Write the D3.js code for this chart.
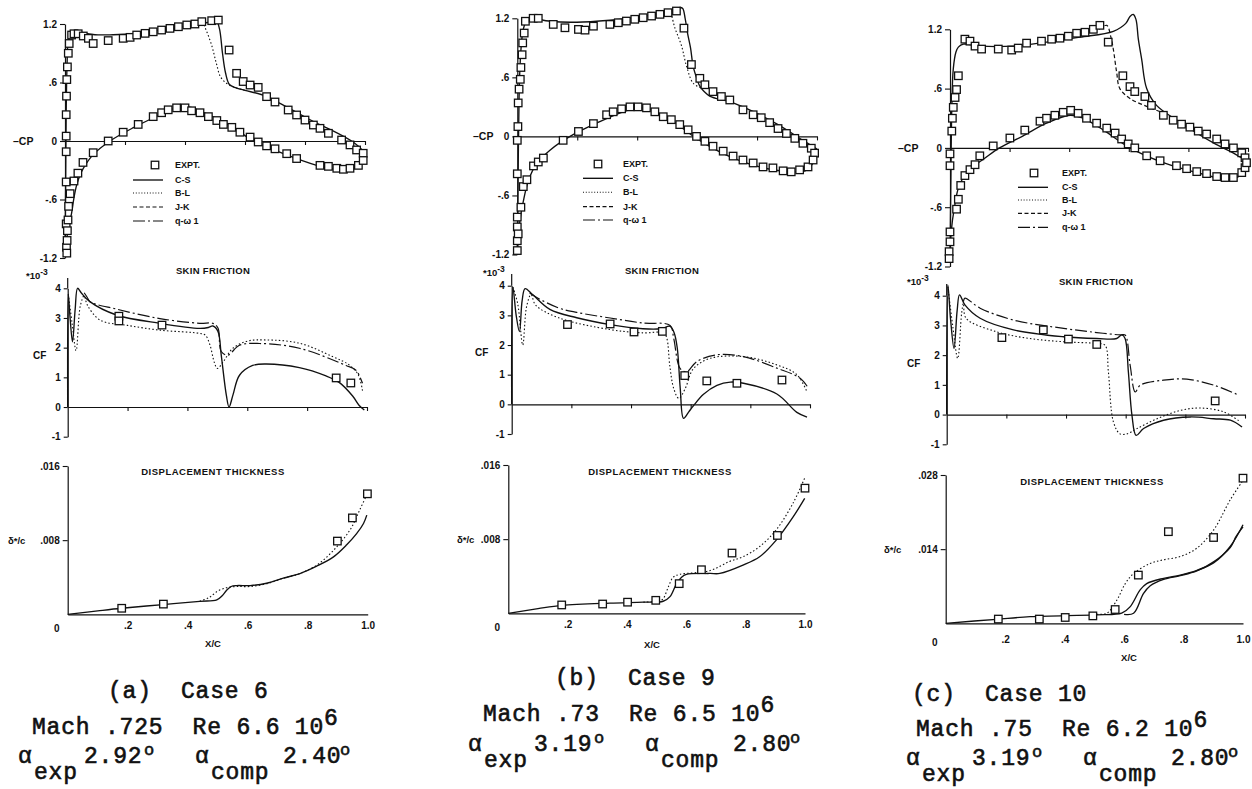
<!DOCTYPE html>
<html>
<head>
<meta charset="utf-8">
<script src="https://cdn.jsdelivr.net/npm/d3@7"></script>
<style>
  body { margin: 0; background: #fff; }
  svg { display: block; }
  .lbl { font-family: "Liberation Sans", Arial, sans-serif; font-weight: bold; fill: #111; }
  .cap { font-family: "Liberation Mono", monospace; font-weight: normal; fill: #111; stroke: #111; stroke-width: 0.6; white-space: pre; }
</style>
</head>
<body>
<svg id="chart" width="1252" height="789"></svg>
<script>
// ---------- shared tick values and labels ----------
const xTickVals = [0.2, 0.4, 0.6, 0.8, 1.0];
const xTickLabels = [".2", ".4", ".6", ".8", "1.0"];
const cpTickVals = [1.2, 0.6, 0, -0.6, -1.2];
const cpTickLabels = ["1.2", ".6", "0", "-.6", "-1.2"];
const cfTickVals = [4, 3, 2, 1, 0, -1];
const cfTickLabels = ["4", "3", "2", "1", "0", "-1"];
const dpTickValsAB = [0.016, 0.008];
const dpTickLabelsAB = [".016", ".008"];
const dpTickValsC = [0.028, 0.014];
const dpTickLabelsC = [".028", ".014"];
const legendLabels = ["EXPT.", "C-S", "B-L", "J-K", "q-\u03c9 1"];

// ---------- captions ----------
const caseTitles = ["(a)  Case 6", "(b)  Case 9", "(c)  Case 10"];
const flowLines = ["Mach .725  Re 6.6 10", "Mach .73  Re 6.5 10", "Mach .75  Re 6.2 10"];
const alphaExp = ["2.92", "3.19", "3.19"];
const alphaComp = ["2.40", "2.80", "2.80"];

// ---------- Case 6: pressure coefficient (-Cp vs x/c) ----------
const cpA_CS_upper = [[0,-1.15],[0.002,-0.5],[0.004,0.3],[0.007,0.8],[0.011,1.03],[0.02,1.1],[0.035,1.135],[0.06,1.11],[0.1,1.09],[0.16,1.09],[0.23,1.1],[0.3,1.13],[0.34,1.145],[0.4,1.175],[0.45,1.2],[0.49,1.225],[0.505,1.23],[0.515,1.15],[0.525,0.9],[0.535,0.7],[0.548,0.58],[0.57,0.545],[0.6,0.52],[0.67,0.46],[0.72,0.38],[0.78,0.28],[0.84,0.18],[0.89,0.11],[0.95,0.01],[0.98,-0.06],[1.0,-0.13]];
const cpA_BL_upper = [[0.44,1.195],[0.46,1.2],[0.47,1.14],[0.49,0.97],[0.505,0.79],[0.52,0.65],[0.55,0.57],[0.6,0.52]];
const cpA_CS_lower = [[0,-1.15],[0.006,-1.0],[0.012,-0.88],[0.022,-0.74],[0.03,-0.58],[0.039,-0.45],[0.05,-0.35],[0.061,-0.28],[0.094,-0.14],[0.15,0.0],[0.228,0.137],[0.317,0.27],[0.36,0.33],[0.39,0.35],[0.42,0.345],[0.45,0.31],[0.5,0.24],[0.56,0.14],[0.628,0.0],[0.728,-0.13],[0.839,-0.25],[0.9,-0.29],[0.93,-0.3],[0.955,-0.3],[0.975,-0.25],[0.99,-0.19],[1.0,-0.13]];
const cpA_exp = [[0.004,0.05],[0.004,0.27],[0.005,0.46],[0.006,0.63],[0.008,0.76],[0.011,0.9],[0.014,1.0],[0.022,1.087],[0.03,1.1],[0.044,1.1],[0.061,1.077],[0.078,1.053],[0.094,1.0],[0.144,1.03],[0.194,1.053],[0.217,1.063],[0.239,1.087],[0.267,1.104],[0.294,1.12],[0.322,1.138],[0.35,1.155],[0.378,1.172],[0.406,1.19],[0.433,1.2],[0.456,1.224],[0.489,1.234],[0.511,1.24],[0.547,0.933],[0.572,0.694],[0.594,0.61],[0.617,0.574],[0.644,0.55],[0.672,0.455],[0.7,0.4],[0.744,0.318],[0.772,0.267],[0.8,0.215],[0.828,0.164],[0.85,0.13],[0.878,0.079],[0.922,0.01],[0.95,-0.04],[0.972,-0.092],[0.994,-0.126],
  [0.004,-0.11],[0.004,-0.42],[0.004,-0.85],[0.005,-1.09],[0.006,-1.15],[0.007,-1.02],[0.008,-0.92],[0.01,-0.81],[0.012,-0.67],[0.017,-0.54],[0.03,-0.41],[0.043,-0.33],[0.06,-0.22],[0.094,-0.12],[0.144,0.0],[0.194,0.09],[0.244,0.17],[0.294,0.25],[0.322,0.29],[0.344,0.32],[0.372,0.34],[0.4,0.34],[0.422,0.31],[0.45,0.29],[0.478,0.25],[0.506,0.21],[0.528,0.17],[0.556,0.14],[0.583,0.09],[0.617,0.04],[0.644,-0.01],[0.672,-0.05],[0.7,-0.08],[0.739,-0.13],[0.772,-0.18],[0.85,-0.25],[0.878,-0.26],[0.906,-0.28],[0.928,-0.29],[0.95,-0.28],[0.978,-0.25],[0.994,-0.2]];

// ---------- Case 9: pressure coefficient ----------
const cpB_CS_upper = [[0,-1.15],[0.003,-0.3],[0.006,0.4],[0.009,0.71],[0.014,0.95],[0.02,1.09],[0.035,1.2],[0.053,1.22],[0.087,1.18],[0.198,1.16],[0.309,1.18],[0.42,1.22],[0.509,1.27],[0.543,1.31],[0.552,1.3],[0.56,1.2],[0.568,1.05],[0.578,0.9],[0.587,0.71],[0.6,0.58],[0.609,0.51],[0.642,0.41],[0.7,0.36],[0.753,0.3],[0.864,0.13],[0.953,-0.04],[1.0,-0.13]];
const cpB_BL_upper = [[0.49,1.255],[0.507,1.27],[0.526,1.1],[0.548,0.92],[0.565,0.71],[0.587,0.54],[0.615,0.49]];
const cpB_CS_lower = [[0,-1.15],[0.004,-1.0],[0.009,-0.85],[0.02,-0.66],[0.037,-0.45],[0.064,-0.28],[0.109,-0.14],[0.176,0.0],[0.265,0.135],[0.353,0.25],[0.409,0.29],[0.44,0.28],[0.476,0.23],[0.531,0.13],[0.598,-0.02],[0.698,-0.19],[0.809,-0.31],[0.92,-0.36],[0.96,-0.35],[0.985,-0.28],[1.0,-0.15]];
const cpB_exp = [[0.0,-0.04],[0.002,0.1],[0.003,0.34],[0.006,0.48],[0.01,0.58],[0.012,0.7],[0.016,0.83],[0.018,0.95],[0.023,1.05],[0.027,1.17],[0.053,1.2],[0.07,1.2],[0.12,1.138],[0.159,1.104],[0.204,1.087],[0.226,1.08],[0.254,1.12],[0.309,1.138],[0.337,1.155],[0.364,1.172],[0.392,1.19],[0.42,1.206],[0.448,1.223],[0.476,1.24],[0.503,1.257],[0.531,1.274],[0.556,1.1],[0.581,0.73],[0.609,0.59],[0.626,0.525],[0.653,0.455],[0.681,0.405],[0.709,0.37],[0.753,0.27],[0.787,0.22],[0.814,0.19],[0.842,0.14],[0.87,0.08],[0.898,0.03],[0.926,-0.02],[0.953,-0.07],[0.981,-0.12],[0.992,-0.17],
  [0.0,-0.38],[0.0,-0.82],[0.0,-0.92],[0.0,-1.06],[0.0,-1.16],[0.003,-0.99],[0.012,-0.72],[0.02,-0.51],[0.032,-0.44],[0.054,-0.3],[0.07,-0.26],[0.087,-0.22],[0.153,-0.04],[0.204,0.05],[0.254,0.13],[0.298,0.22],[0.32,0.25],[0.348,0.28],[0.376,0.3],[0.403,0.3],[0.431,0.29],[0.459,0.25],[0.487,0.2],[0.514,0.17],[0.542,0.12],[0.57,0.067],[0.598,0.0],[0.626,-0.05],[0.653,-0.1],[0.687,-0.15],[0.72,-0.2],[0.753,-0.24],[0.787,-0.27],[0.82,-0.31],[0.853,-0.32],[0.887,-0.35],[0.914,-0.36],[0.942,-0.34],[0.97,-0.31],[0.987,-0.24]];

// ---------- Case 10: pressure coefficient ----------
const cpC_CS_upper = [[0,-1.15],[0.003,-0.3],[0.006,0.4],[0.011,0.8],[0.02,0.97],[0.028,1.02],[0.045,1.05],[0.101,1.03],[0.213,1.03],[0.324,1.07],[0.436,1.12],[0.548,1.18],[0.59,1.26],[0.604,1.33],[0.615,1.35],[0.624,1.3],[0.632,1.1],[0.643,0.9],[0.66,0.6],[0.693,0.43],[0.772,0.26],[0.884,0.05],[0.95,-0.05],[1.0,-0.14]];
const cpC_BL_upper = [[0.5,1.2],[0.526,1.24],[0.54,1.12],[0.548,1.0],[0.559,0.77],[0.57,0.6],[0.604,0.5],[0.66,0.42],[0.72,0.35]];
const cpC_CS_lower = [[0,-1.15],[0.004,-0.85],[0.015,-0.6],[0.03,-0.39],[0.064,-0.22],[0.11,-0.12],[0.166,0.0],[0.244,0.12],[0.324,0.25],[0.403,0.33],[0.447,0.3],[0.515,0.18],[0.604,0.0],[0.716,-0.15],[0.828,-0.25],[0.94,-0.32],[0.975,-0.28],[0.99,-0.22],[1.0,-0.14]];
const cpC_exp = [[0.006,0.17],[0.008,0.3],[0.011,0.41],[0.017,0.51],[0.022,0.59],[0.028,0.73],[0.05,1.1],[0.067,1.08],[0.084,1.03],[0.106,1.0],[0.162,1.0],[0.207,0.99],[0.229,1.01],[0.257,1.06],[0.307,1.08],[0.341,1.1],[0.369,1.11],[0.397,1.13],[0.425,1.16],[0.453,1.17],[0.481,1.2],[0.503,1.24],[0.531,1.07],[0.58,0.73],[0.604,0.62],[0.62,0.57],[0.654,0.52],[0.676,0.43],[0.716,0.33],[0.749,0.28],[0.777,0.24],[0.805,0.21],[0.833,0.17],[0.861,0.14],[0.895,0.09],[0.923,0.04],[0.951,0.0],[0.979,-0.05],[0.99,-0.1],
  [0.0,-0.06],[0.0,-0.18],[0.0,-0.85],[0.0,-0.95],[-0.003,-1.05],[-0.003,-1.12],[0.022,-0.62],[0.028,-0.52],[0.036,-0.38],[0.05,-0.28],[0.067,-0.22],[0.084,-0.17],[0.1,-0.08],[0.145,0.02],[0.201,0.1],[0.251,0.18],[0.302,0.27],[0.324,0.3],[0.352,0.33],[0.38,0.36],[0.405,0.38],[0.43,0.35],[0.458,0.3],[0.492,0.25],[0.526,0.2],[0.554,0.15],[0.576,0.09],[0.598,0.04],[0.62,0.0],[0.66,-0.08],[0.705,-0.13],[0.76,-0.18],[0.794,-0.21],[0.828,-0.24],[0.861,-0.26],[0.895,-0.29],[0.923,-0.3],[0.951,-0.3],[0.979,-0.25],[0.99,-0.2],[0.995,-0.15]];

// ---------- skin friction (Cf * 10^3 vs x/c) ----------
const cfA_CS = [[0,0],[0.002,3.8],[0.008,3.0],[0.016,2.2],[0.025,3.3],[0.033,4.0],[0.045,3.85],[0.074,3.55],[0.163,3.1],[0.308,2.82],[0.441,2.65],[0.47,2.68],[0.485,2.73],[0.502,2.55],[0.513,1.75],[0.53,0.4],[0.539,0.0],[0.552,0.4],[0.574,1.07],[0.618,1.4],[0.663,1.45],[0.774,1.33],[0.863,1.05],[0.907,0.83],[0.952,0.37],[0.974,0.05],[0.991,-0.1]];
const cfA_BL = [[0.002,3.8],[0.015,2.8],[0.028,1.9],[0.042,3.4],[0.055,3.75],[0.065,3.45],[0.108,2.93],[0.2,2.75],[0.308,2.59],[0.441,2.48],[0.46,2.42],[0.475,2.1],[0.49,1.5],[0.5,1.3],[0.52,1.53],[0.552,1.98],[0.6,2.22],[0.663,2.26],[0.774,2.15],[0.885,1.7],[0.94,1.42],[0.97,1.1],[0.985,0.55]];
const cfA_QW = [[0.055,3.85],[0.065,3.7],[0.0745,3.55],[0.163,3.3],[0.308,2.98],[0.441,2.82],[0.485,2.82],[0.502,2.66],[0.513,1.87],[0.535,1.75],[0.574,2.08],[0.641,2.14],[0.774,1.98],[0.93,1.4],[0.963,1.24],[0.985,0.8]];
const cfA_exp = [[0.171,3.06],[0.171,2.9],[0.315,2.76],[0.897,0.98],[0.946,0.81]];

const cfB_CS = [[0,0],[0.004,3.95],[0.015,3.0],[0.026,2.45],[0.035,3.5],[0.045,3.9],[0.07,3.7],[0.128,3.2],[0.218,2.92],[0.33,2.69],[0.44,2.55],[0.5,2.55],[0.531,2.63],[0.545,2.4],[0.555,1.9],[0.565,0.54],[0.576,-0.47],[0.593,-0.26],[0.609,-0.05],[0.643,0.34],[0.688,0.64],[0.733,0.75],[0.777,0.71],[0.889,0.35],[0.956,-0.27],[0.99,-0.43]];
const cfB_BL = [[0.004,3.95],[0.02,3.4],[0.037,2.0],[0.05,3.3],[0.065,3.7],[0.08,3.35],[0.157,2.92],[0.33,2.52],[0.44,2.41],[0.51,2.41],[0.52,2.23],[0.53,1.3],[0.543,0.54],[0.56,0.2],[0.582,0.54],[0.609,1.2],[0.665,1.55],[0.777,1.61],[0.889,1.33],[0.956,1.0],[0.99,0.42]];
const cfB_QW = [[0.06,3.75],[0.084,3.6],[0.157,3.25],[0.218,3.1],[0.33,2.91],[0.44,2.74],[0.531,2.66],[0.543,2.23],[0.565,1.2],[0.587,1.1],[0.62,1.44],[0.688,1.67],[0.777,1.61],[0.889,1.22],[0.967,0.88],[0.995,0.54]];
const cfB_exp = [[0.187,2.69],[0.33,2.71],[0.41,2.44],[0.505,2.46],[0.58,0.97],[0.654,0.79],[0.755,0.71],[0.906,0.82]];

const cfC_CS = [[0,0],[0.004,4.35],[0.013,3.2],[0.0245,2.23],[0.035,3.5],[0.043,4.03],[0.061,3.69],[0.112,3.24],[0.224,2.85],[0.392,2.62],[0.503,2.56],[0.57,2.56],[0.587,2.68],[0.598,2.56],[0.609,1.44],[0.621,-0.02],[0.635,-0.7],[0.66,-0.47],[0.727,-0.19],[0.817,-0.08],[0.895,-0.14],[0.951,-0.19],[0.99,-0.42]];
const cfC_BL = [[0.004,4.3],[0.02,3.0],[0.037,1.89],[0.05,3.4],[0.056,3.74],[0.065,3.24],[0.166,2.79],[0.278,2.56],[0.392,2.45],[0.503,2.39],[0.531,2.33],[0.542,1.44],[0.559,-0.25],[0.581,-0.65],[0.604,-0.65],[0.638,-0.47],[0.705,-0.14],[0.783,0.14],[0.85,0.22],[0.929,0.09],[0.985,-0.25]];
const cfC_QW = [[0.056,3.8],[0.061,3.92],[0.112,3.58],[0.224,3.18],[0.392,2.9],[0.503,2.76],[0.582,2.68],[0.598,2.68],[0.615,1.66],[0.632,0.76],[0.649,0.99],[0.727,1.16],[0.805,1.19],[0.895,0.99],[0.98,0.65]];
const cfC_exp = [[0.185,2.59],[0.324,2.85],[0.408,2.54],[0.503,2.36],[0.9,0.46]];

// ---------- displacement thickness (delta*/c vs x/c) ----------
const dpA_CS = [[0,0],[0.1,0.00037],[0.18,0.00065],[0.318,0.00105],[0.44,0.0014],[0.497,0.00155],[0.515,0.002],[0.53,0.0026],[0.545,0.003],[0.563,0.0031],[0.608,0.0031],[0.663,0.00335],[0.719,0.0039],[0.774,0.0044],[0.83,0.0052],[0.886,0.0062],[0.93,0.0075],[0.963,0.0087],[0.986,0.0098],[0.997,0.0107]];
const dpA_BL = [[0.44,0.0014],[0.471,0.0018],[0.5,0.0025],[0.533,0.0029],[0.563,0.003],[0.608,0.003],[0.663,0.0033],[0.719,0.0039],[0.774,0.0044],[0.83,0.0053],[0.886,0.0069],[0.941,0.0091],[0.974,0.0113],[0.997,0.0129]];
const dpA_exp = [[0.18,0.00065],[0.319,0.0011],[0.899,0.0079],[0.949,0.0104],[0.999,0.013]];

const dpB_CS = [[0,0],[0.1,0.0005],[0.18,0.00085],[0.342,0.0011],[0.455,0.0012],[0.522,0.0013],[0.545,0.0018],[0.567,0.0032],[0.584,0.0039],[0.6,0.0042],[0.679,0.0043],[0.713,0.0043],[0.791,0.0052],[0.847,0.0061],[0.903,0.0079],[0.96,0.0104],[0.999,0.0124]];
const dpB_BL = [[0.455,0.0012],[0.5,0.0013],[0.52,0.0015],[0.54,0.0029],[0.556,0.0039],[0.578,0.0042],[0.679,0.0046],[0.746,0.0056],[0.791,0.0061],[0.847,0.0072],[0.903,0.009],[0.96,0.0119],[0.999,0.0146]];
const dpB_exp = [[0.18,0.0009],[0.318,0.001],[0.402,0.0012],[0.497,0.0014],[0.576,0.0032],[0.651,0.0047],[0.754,0.0065],[0.907,0.0084],[1.0,0.0135]];

const dpC_CS = [[0,0],[0.17,0.00075],[0.284,0.00125],[0.508,0.0016],[0.592,0.0019],[0.62,0.0031],[0.654,0.0063],[0.676,0.0075],[0.733,0.0085],[0.789,0.0091],[0.845,0.01],[0.901,0.0114],[0.957,0.0145],[1.0,0.0186]];
const dpC_QW = [[0.6,0.0017],[0.632,0.0019],[0.665,0.0056],[0.688,0.0071],[0.733,0.0083],[0.789,0.009],[0.845,0.0099],[0.901,0.0116],[0.957,0.0143],[0.977,0.0164],[1.0,0.0182]];
const dpC_BL = [[0.508,0.0017],[0.542,0.0019],[0.576,0.0044],[0.604,0.0075],[0.632,0.0094],[0.688,0.0113],[0.733,0.012],[0.789,0.0126],[0.845,0.0142],[0.901,0.0176],[0.957,0.0233],[1.0,0.027]];
const dpC_exp = [[0.177,0.0008],[0.315,0.0008],[0.402,0.0011],[0.495,0.0014],[0.57,0.0026],[0.648,0.0091],[0.749,0.0173],[0.901,0.0162],[1.0,0.0274]];

// ---------- drawing ----------
const svg = d3.select("#chart");
const ink = "#111";
svg.append("rect").attr("width", 1252).attr("height", 789).attr("fill", "#fff");

const lineStyle = {
  CS: { w: 1.35, dash: null },
  BL: { w: 1.1, dash: "1.5,2.2" },
  JK: { w: 1.2, dash: "4,2.5" },
  QW: { w: 1.2, dash: "12,3,2,3" }
};
const sq = 7.5;

function styleAxis(sel, fontSize) {
  sel.select(".domain").attr("stroke", ink).attr("stroke-width", 1.2);
  sel.selectAll(".tick line").attr("stroke", ink).attr("stroke-width", 1.1);
  sel.selectAll(".tick text").attr("class", "lbl").attr("font-size", fontSize)
     .attr("fill", ink).style("font-family", "'Liberation Sans', Arial, sans-serif").style("font-weight", "bold");
}

function drawCurve(g, x, y, data, key) {
  const st = lineStyle[key];
  g.append("path").datum(data)
    .attr("d", d3.line().x(d => x(d[0])).y(d => y(d[1])).curve(d3.curveCatmullRom.alpha(0.5)))
    .attr("fill", "none").attr("stroke", ink)
    .attr("stroke-width", st.w).attr("stroke-dasharray", st.dash)
    .attr("stroke-linejoin", "round");
}

function drawSquares(g, x, y, pts) {
  g.append("g").selectAll("rect").data(pts).join("rect")
    .attr("x", d => x(d[0]) - sq / 2).attr("y", d => y(d[1]) - sq / 2)
    .attr("width", sq).attr("height", sq)
    .attr("fill", "#fff").attr("stroke", ink).attr("stroke-width", 1.3);
}

function label(g, txt, x, y, size, anchor) {
  return g.append("text").attr("class", "lbl").attr("x", x).attr("y", y)
    .attr("font-size", size).attr("text-anchor", anchor || "start")
    .attr("dominant-baseline", "central").text(txt);
}

function cpPanel(L, curves, exp) {
  const g = svg.append("g");
  const x = d3.scaleLinear([0, 1], [L.x0, L.x1]);
  const y = d3.scaleLinear([-1.2, 1.2], [L.yBot, L.yTop]);
  g.append("g").attr("transform", `translate(${L.x0},0)`)
    .call(d3.axisLeft(y).tickValues(cpTickVals).tickFormat((d, i) => cpTickLabels[i]).tickSize(5).tickSizeOuter(0).tickPadding(3))
    .call(s => styleAxis(s, 10));
  g.append("g").attr("transform", `translate(0,${y(0)})`)
    .call(d3.axisBottom(x).tickValues(xTickVals).tickFormat("").tickSize(4).tickSizeOuter(0))
    .call(s => styleAxis(s, 10));
  label(g, "\u2013CP", L.cpLabelX, y(0), 10.5);
  curves.forEach(c => drawCurve(g, x, y, c.data, c.key));
  drawSquares(g, x, y, exp);

  // legend
  const lg = g.append("g");
  const Lg = L.legend;
  lg.append("rect").attr("x", Lg.sqX - sq / 2).attr("y", Lg.rows[0] - sq / 2).attr("width", sq).attr("height", sq)
    .attr("fill", "#fff").attr("stroke", ink).attr("stroke-width", 1.3);
  ["CS", "BL", "JK", "QW"].forEach((k, i) => {
    const yy = Lg.rows[i + 1];
    lg.append("line").attr("x1", Lg.lineX0).attr("x2", Lg.lineX1).attr("y1", yy).attr("y2", yy)
      .attr("stroke", ink).attr("stroke-width", lineStyle[k].w).attr("stroke-dasharray", k === "BL" ? "1,1.8" : lineStyle[k].dash);
  });
  legendLabels.forEach((t, i) => label(lg, t, Lg.textX, Lg.rows[i], 9));
}

function cfPanel(L, curves, exp) {
  const g = svg.append("g");
  const x = d3.scaleLinear([0, 1], [L.x0, L.x1]);
  const y = d3.scaleLinear([-1, 4], [L.yM1, L.y4]);
  g.append("line").attr("x1", L.x0).attr("x2", L.x0).attr("y1", y(4)).attr("y2", L.axisTop)
    .attr("stroke", ink).attr("stroke-width", 1.2);
  g.append("g").attr("transform", `translate(${L.x0},0)`)
    .call(d3.axisLeft(y).tickValues(cfTickVals).tickFormat((d, i) => cfTickLabels[i]).tickSize(4).tickSizeOuter(0).tickPadding(3))
    .call(s => styleAxis(s, 10));
  g.append("g").attr("transform", `translate(0,${y(0)})`)
    .call(d3.axisBottom(x).tickValues(xTickVals).tickFormat("").tickSize(4).tickSizeOuter(0))
    .call(s => styleAxis(s, 10));
  label(g, "CF", L.cfLabelX, L.cfLabelY, 10);
  const sc = g.append("text").attr("class", "lbl").attr("x", L.expX).attr("y", L.expY).attr("font-size", 9.5);
  sc.append("tspan").text("*10");
  sc.append("tspan").attr("dy", -4).attr("font-size", 8.5).text("-3");
  label(g, "SKIN FRICTION", L.titleX, L.titleY, 9.5, "middle").attr("letter-spacing", 0.3);
  curves.forEach(c => drawCurve(g, x, y, c.data, c.key));
  drawSquares(g, x, y, exp);
}

function dpPanel(L, maxV, tickVals, tickLabels, curves, exp) {
  const g = svg.append("g");
  const x = d3.scaleLinear([0, 1], [L.x0, L.x1]);
  const y = d3.scaleLinear([0, maxV], [L.y0, L.yTop]);
  g.append("g").attr("transform", `translate(${L.x0},0)`)
    .call(d3.axisLeft(y).tickValues(tickVals).tickFormat((d, i) => tickLabels[i]).tickSize(5).tickSizeOuter(0).tickPadding(3))
    .call(s => styleAxis(s, 10));
  g.append("g").attr("transform", `translate(0,${y(0)})`)
    .call(d3.axisBottom(x).tickValues(xTickVals).tickFormat((d, i) => xTickLabels[i]).tickSize(0).tickSizeOuter(0).tickPadding(L.pad))
    .call(s => styleAxis(s, 10));
  label(g, "0", L.x0 - 11, y(0) + L.pad + 6, 10, "middle");
  label(g, "X/C", L.xcX, L.xcY, 9.5, "middle");
  label(g, "\u03b4*/c", L.dLabelX, y(tickVals[1]), 9.5);
  label(g, "DISPLACEMENT THICKNESS", L.titleX, L.titleY, 9.5, "middle").attr("letter-spacing", 0.5);
  curves.forEach(c => drawCurve(g, x, y, c.data, c.key));
  drawSquares(g, x, y, exp);
}

// ---------- panel geometry ----------
const geom = {
  a: {
    cp: { x0: 65, x1: 365, yTop: 24, yBot: 258, cpLabelX: 13,
          legend: { sqX: 155, textX: 175, lineX0: 133, lineX1: 163, rows: [165, 180, 193, 207, 221] } },
    cf: { x0: 67.7, x1: 367, y4: 288.3, yM1: 436.7, axisTop: 278, cfLabelX: 33, cfLabelY: 355,
          expX: 26, expY: 279, titleX: 213, titleY: 270 },
    dp: { x0: 67.7, x1: 367.7, yTop: 466, y0: 614.3, pad: 8, xcX: 213, xcY: 643, dLabelX: 8,
          titleX: 213, titleY: 471 }
  },
  b: {
    cp: { x0: 517.3, x1: 817, yTop: 18.3, yBot: 254.5, cpLabelX: 473,
          legend: { sqX: 598, textX: 623, lineX0: 583, lineX1: 613, rows: [164, 178.3, 192.3, 206.7, 220] } },
    cf: { x0: 511.7, x1: 810, y4: 285.7, yM1: 434, axisTop: 274, cfLabelX: 475, cfLabelY: 352,
          expX: 483, expY: 276, titleX: 662, titleY: 270 },
    dp: { x0: 508.3, x1: 805, yTop: 465, y0: 613.3, pad: 8, xcX: 652, xcY: 644, dLabelX: 457,
          titleX: 660, titleY: 471 }
  },
  c: {
    cp: { x0: 950, x1: 1248, yTop: 29.3, yBot: 266.5, cpLabelX: 898,
          legend: { sqX: 1034, textX: 1062, lineX0: 1018, lineX1: 1048, rows: [173, 187.3, 200, 213.3, 227.3] } },
    cf: { x0: 946.7, x1: 1245, y4: 295.7, yM1: 444.3, axisTop: 284, cfLabelX: 907, cfLabelY: 363,
          expX: 907, expY: 285, titleX: 1096, titleY: 281 },
    dp: { x0: 945.7, x1: 1243, yTop: 475, y0: 623.3, pad: 13, xcX: 1129, xcY: 657, dLabelX: 884,
          titleX: 1092, titleY: 481 }
  }
};

// Case 6
cpPanel(geom.a.cp, [
  { data: cpA_CS_upper, key: "CS" }, { data: cpA_CS_lower, key: "CS" }, { data: cpA_BL_upper, key: "BL" }
], cpA_exp);
cfPanel(geom.a.cf, [
  { data: cfA_CS, key: "CS" }, { data: cfA_BL, key: "BL" }, { data: cfA_QW, key: "QW" }
], cfA_exp);
dpPanel(geom.a.dp, 0.016, dpTickValsAB, dpTickLabelsAB, [
  { data: dpA_CS, key: "CS" }, { data: dpA_BL, key: "BL" }
], dpA_exp);

// Case 9
cpPanel(geom.b.cp, [
  { data: cpB_CS_upper, key: "CS" }, { data: cpB_CS_lower, key: "CS" }, { data: cpB_BL_upper, key: "BL" }
], cpB_exp);
cfPanel(geom.b.cf, [
  { data: cfB_CS, key: "CS" }, { data: cfB_BL, key: "BL" }, { data: cfB_QW, key: "QW" }
], cfB_exp);
dpPanel(geom.b.dp, 0.016, dpTickValsAB, dpTickLabelsAB, [
  { data: dpB_CS, key: "CS" }, { data: dpB_BL, key: "BL" }
], dpB_exp);

// Case 10
cpPanel(geom.c.cp, [
  { data: cpC_CS_upper, key: "CS" }, { data: cpC_CS_lower, key: "CS" }, { data: cpC_BL_upper, key: "JK" }
], cpC_exp);
cfPanel(geom.c.cf, [
  { data: cfC_CS, key: "CS" }, { data: cfC_BL, key: "BL" }, { data: cfC_QW, key: "QW" }
], cfC_exp);
dpPanel(geom.c.dp, 0.028, dpTickValsC, dpTickLabelsC, [
  { data: dpC_CS, key: "CS" }, { data: dpC_QW, key: "CS" }, { data: dpC_BL, key: "BL" }
], dpC_exp);

// ---------- captions ----------
const capPos = [
  { t: [108, 698], f: [32, 734], a: [18, 763] },
  { t: [555, 685], f: [483, 721], a: [468, 751] },
  { t: [912, 701], f: [916, 736], a: [906, 765] }
];
const capSize = 23, capSpace = 0.8;
capPos.forEach((p, i) => {
  svg.append("text").attr("class", "cap").attr("x", p.t[0]).attr("y", p.t[1])
    .attr("font-size", capSize).attr("letter-spacing", capSpace).text(caseTitles[i]);
  const f = svg.append("text").attr("class", "cap").attr("x", p.f[0]).attr("y", p.f[1])
    .attr("font-size", capSize).attr("letter-spacing", capSpace);
  f.append("tspan").text(flowLines[i]);
  f.append("tspan").attr("dy", -9).text("6");
  const ax = p.a[0], ay = p.a[1];
  const put = (txt, dx, dy, size) => svg.append("text").attr("class", "cap").attr("x", ax + dx).attr("y", ay + dy)
    .attr("font-size", size || capSize).attr("letter-spacing", capSpace).text(txt);
  put("\u03b1", 0, 0);
  put("exp", 16, 16);
  put(alphaExp[i], 66, 0);
  put("o", 126, -8, 17);
  put("\u03b1", 177, 0);
  put("comp", 193, 16);
  put(alphaComp[i], 265, 0);
  put("o", 322, -8, 17);
});
</script>
</body>
</html>
